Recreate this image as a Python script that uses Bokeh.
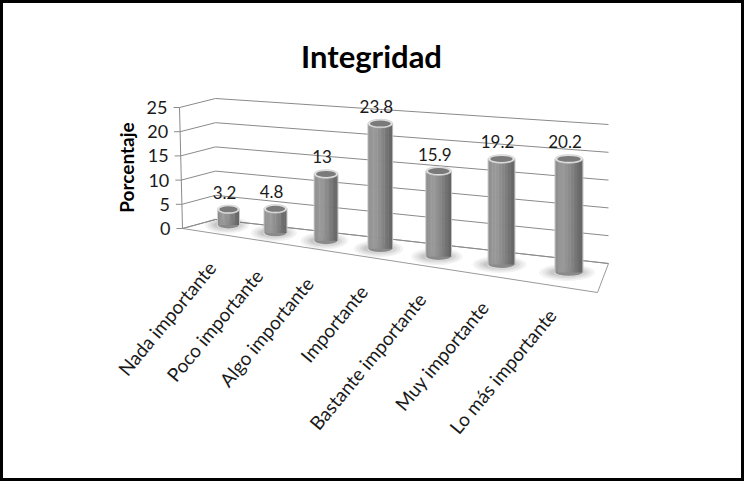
import numpy as np
from bokeh.plotting import figure
from bokeh.models import Range1d, ColumnDataSource
from bokeh.core.properties import value
from bokeh.embed import file_html
from bokeh.resources import INLINE

# ---- data -------------------------------------------------------------
categories = ["Nada importante", "Poco importante", "Algo importante", "Importante",
              "Bastante importante", "Muy importante", "Lo más importante"]
porcentaje = [3.2, 4.8, 13, 23.8, 15.9, 19.2, 20.2]
y_ticks = [0, 5, 10, 15, 20, 25]
y_tick_labels = ["0", "5", "10", "15", "20", "25"]
title_text = "Integridad"
y_title = "Porcentaje"

# ---- page / perspective layout ---------------------------------------
W, H = 744, 481
FONT = "Lato"
BAR_FRAC = 0.42          # bar width as a fraction of a category slot


def bar_cx(i):           # horizontal centre of slot i on the page
    return 228 + 47 * (1.075 ** i - 1) / 0.075


def bar_px(i):           # bar width in pixels (grows towards the viewer)
    return 22 * 1.04 ** i


def floor_y(i):          # page y of the value 0 for slot i
    return 224.5 + 7.9 * i


def v_scale(i):          # pixels per percentage point for slot i
    return 4.9 + 0.12 * i


# walls: left side (axis) -> back-left corner -> back-right end
AX_X_TOP, AX_X_BOT = 179, 182
SIDE_Y0, SIDE_K = 228, 4.84
CORNER_X, CORNER_Y0, CORNER_K = 215, 219, 4.84
RIGHT_X, RIGHT_Y0, RIGHT_K = 608, 263, 5.56
FLOOR_FRONT_RIGHT = (597, 292)

p = figure(width=W, height=H, x_range=Range1d(0, W), y_range=Range1d(H, 0),
           output_backend="svg", toolbar_location=None, min_border=0,
           x_axis_location=None, y_axis_location=None)
p.grid.visible = False
p.outline_line_color = "black"
p.outline_line_width = 5
p.background_fill_color = "white"
p.border_fill_color = "white"

# one x/y range per slot so each cylinder is scaled by its own depth
for i in range(len(categories)):
    u = bar_px(i) / BAR_FRAC
    cx = bar_cx(i)
    p.extra_x_ranges[f"x{i}"] = Range1d(start=i - cx / u, end=i + (W - cx) / u)
    fy, k = floor_y(i), v_scale(i)
    p.extra_y_ranges[f"y{i}"] = Range1d(start=(fy - H) / k, end=fy / k)

# ---- floor ------------------------------------------------------------
p.patch(x=[AX_X_BOT, CORNER_X, RIGHT_X, FLOOR_FRONT_RIGHT[0]],
        y=[SIDE_Y0, CORNER_Y0, RIGHT_Y0, FLOOR_FRONT_RIGHT[1]],
        fill_color="white", line_color="#9a9a9a", line_width=1)

# ---- gridlines on the side and back walls ------------------------------
gx, gy = [], []
for v in y_ticks:
    ax_x = AX_X_BOT + (AX_X_TOP - AX_X_BOT) * v / y_ticks[-1]
    gx.append([ax_x, CORNER_X, RIGHT_X])
    gy.append([SIDE_Y0 - SIDE_K * v, CORNER_Y0 - CORNER_K * v, RIGHT_Y0 - RIGHT_K * v])
p.multi_line(xs=gx, ys=gy, line_color="#8a8a8a", line_width=1)

# vertical axis line, tick marks and tick labels
p.segment(x0=[AX_X_TOP], y0=[SIDE_Y0 - SIDE_K * y_ticks[-1]],
          x1=[AX_X_BOT], y1=[SIDE_Y0], line_color="#8a8a8a", line_width=1)
tick_x = [AX_X_BOT + (AX_X_TOP - AX_X_BOT) * v / y_ticks[-1] for v in y_ticks]
tick_y = [SIDE_Y0 - SIDE_K * v for v in y_ticks]
p.segment(x0=[x - 6 for x in tick_x], y0=tick_y, x1=tick_x, y1=tick_y,
          line_color="#8a8a8a", line_width=1)
p.text(x=[x - 12 for x in tick_x], y=tick_y, text=y_tick_labels,
       text_font=value(FONT), text_font_size="18px", text_color="#1a1a1a",
       text_align="right", text_baseline="middle")

p.text(x=[126], y=[167], text=[y_title], angle=np.pi / 2,
       text_font=value(FONT), text_font_size="19px", text_font_style="bold",
       text_color="#000000", text_align="center", text_baseline="middle")

# ---- cylinders -----------------------------------------------------------
N_STRIP = 18
t_knots = [0.0, 0.12, 0.3, 0.55, 0.8, 1.0]
g_knots = [128, 150, 154, 138, 114, 96]
strip_t = (np.arange(N_STRIP) + 0.5) / N_STRIP
strip_g = np.interp(strip_t, t_knots, g_knots).astype(int)
strip_colors = ["#%02x%02x%02x" % (g, g, g) for g in strip_g]
strip_off = (strip_t - 0.5) * BAR_FRAC
strip_w = BAR_FRAC / N_STRIP * 1.35

# soft shadows on the floor
for i, val in enumerate(porcentaje):
    xr, yr = f"x{i}", f"y{i}"
    for scale, hh, a in [(2.0, 17, 0.07), (1.75, 14, 0.08), (1.5, 11, 0.10), (1.25, 8, 0.13)]:
        p.ellipse(x=[i - 0.03], y=[0], width=BAR_FRAC * scale, height=hh,
                  height_units="screen", fill_color="#5a5a5a", fill_alpha=a,
                  line_color=None, x_range_name=xr, y_range_name=yr)

for i, val in enumerate(porcentaje):
    xr, yr = f"x{i}", f"y{i}"
    # rounded base
    p.ellipse(x=[i], y=[0], width=BAR_FRAC, height=8, height_units="screen",
              fill_color="#8a8a8a", line_color="#d8d8d8", line_width=1.2,
              x_range_name=xr, y_range_name=yr)
    # shaded body
    src = ColumnDataSource(dict(x=i + strip_off, top=[val] * N_STRIP,
                                bottom=[0] * N_STRIP, color=strip_colors))
    p.vbar(x="x", top="top", bottom="bottom", width=strip_w, source=src,
           fill_color="color", line_color=None,
           x_range_name=xr, y_range_name=yr)
    # light rims on the sides
    p.segment(x0=[i - BAR_FRAC / 2, i + BAR_FRAC / 2], y0=[0, 0],
              x1=[i - BAR_FRAC / 2, i + BAR_FRAC / 2], y1=[val, val],
              line_color="#dcdcdc", line_width=1, line_alpha=0.8,
              x_range_name=xr, y_range_name=yr)
    # top face
    p.ellipse(x=[i], y=[val], width=BAR_FRAC, height=8.5, height_units="screen",
              fill_color="#e4e4e4", line_color="#cfcfcf", line_width=0.8,
              x_range_name=xr, y_range_name=yr)
    p.ellipse(x=[i], y=[val], width=BAR_FRAC * 0.84, height=6, height_units="screen",
              fill_color="#7a7a7a", line_color=None,
              x_range_name=xr, y_range_name=yr)
    # value label
    p.text(x=[i], y=[val], text=[f"{val:g}"], x_offset=-4, y_offset=-17,
           text_font=value(FONT), text_font_size="17px", text_color="#1a1a1a",
           text_align="center", text_baseline="alphabetic",
           x_range_name=xr, y_range_name=yr)
    # category label along the front of the floor
    p.text(x=[i], y=[0], text=[categories[i]], x_offset=-17, y_offset=39,
           angle=0.88, text_font=value(FONT), text_font_size="19px",
           text_color="#1a1a1a", text_align="right", text_baseline="middle",
           x_range_name=xr, y_range_name=yr)

# ---- title -------------------------------------------------------------
p.text(x=[371], y=[55], text=[title_text], text_font=value(FONT),
       text_font_size="31px", text_font_style="bold", text_color="#000000",
       text_align="center", text_baseline="alphabetic")

open("out.html", "w").write(file_html(p, INLINE))
